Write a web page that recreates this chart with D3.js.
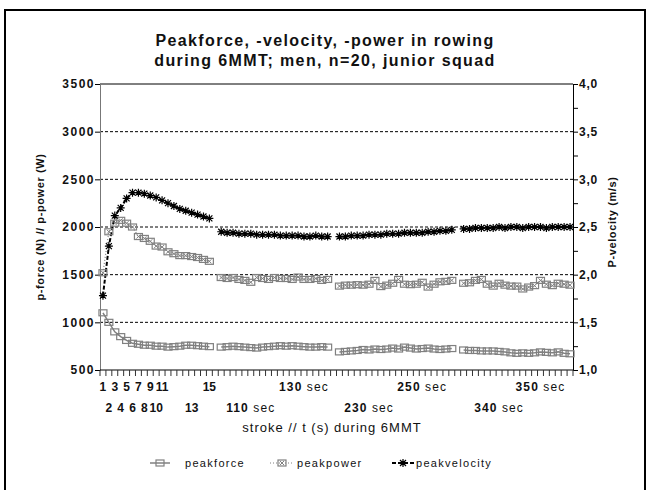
<!DOCTYPE html>
<html>
<head>
<meta charset="utf-8">
<script src="https://cdn.jsdelivr.net/npm/d3@7"></script>
<style>
  body { margin: 0; background: #fff; }
  text { font-family: "Liberation Sans", Arial, sans-serif; fill: #111; }
</style>
</head>
<body>
<svg width="650" height="490"></svg>
<script>
// category labels (80 slots, staggered in two rows by index parity)
const xLabels = [
  '1','2','3','4','5','6','7','8','9','10','11','','','','','13','','','15','',
  '','','','','','110 sec','','','','','','','','','130 sec','','','','','',
  '','','','','','230 sec','','','','','','','','','250 sec','','','','','',
  '','','','','','','','340 sec','','','','','','','350 sec','','','','',''
];

// peak force (N), null = gap
const peakforce = [
  1100,1000,900,850,810,780,770,760,760,750,750,740,745,750,760,760,755,750,745, null,
  740,745,750,745,740,735,730,740,745,750,755,750,755,750,745,740,740,745,740, null,
  690,695,700,705,715,710,720,715,720,730,720,740,730,720,725,730,720,715,720,725, null,
  710,705,705,700,700,700,695,690,680,675,680,675,680,690,685,680,690,675,670
];

// peak power (W)
const peakpower = [
  1520,1950,2040,2070,2040,2000,1900,1880,1850,1800,1790,1740,1720,1700,1700,1690,1680,1660,1640, null,
  1470,1460,1470,1450,1440,1420,1470,1460,1450,1470,1460,1460,1450,1475,1450,1450,1460,1440,1450, null,
  1380,1390,1390,1395,1390,1400,1440,1375,1390,1410,1450,1400,1395,1400,1420,1370,1400,1425,1430,1440, null,
  1410,1415,1440,1450,1400,1380,1410,1390,1380,1380,1350,1370,1385,1440,1400,1385,1410,1400,1390
];

// peak velocity (m/s), right axis
const peakvelocity = [
  1.78,2.30,2.62,2.70,2.80,2.86,2.86,2.85,2.83,2.81,2.78,2.75,2.72,2.69,2.67,2.65,2.63,2.61,2.59, null,
  2.45,2.44,2.44,2.43,2.43,2.43,2.42,2.42,2.42,2.42,2.41,2.41,2.41,2.41,2.40,2.40,2.41,2.40,2.40, null,
  2.40,2.40,2.41,2.41,2.41,2.42,2.42,2.42,2.43,2.43,2.43,2.44,2.44,2.44,2.44,2.45,2.45,2.46,2.46,2.47, null,
  2.48,2.48,2.49,2.49,2.49,2.49,2.50,2.49,2.50,2.50,2.49,2.50,2.50,2.50,2.49,2.50,2.50,2.50,2.50
];

const leftTicks = [500, 1000, 1500, 2000, 2500, 3000, 3500];
const rightTicks = [1.0, 1.5, 2.0, 2.5, 3.0, 3.5, 4.0];

const svg = d3.select('svg');
const plotLeft = 100, plotRight = 573, plotTop = 84, plotBottom = 370;

const x = d3.scaleBand().domain(d3.range(xLabels.length)).range([plotLeft, plotRight]);
const yL = d3.scaleLinear().domain([500, 3500]).range([plotBottom, plotTop]);
const yR = d3.scaleLinear().domain([1.0, 4.0]).range([plotBottom, plotTop]);
const cx = i => x(i) + x.bandwidth() / 2;

// outer frame
svg.append('path')
    .attr('d', 'M5,492 V10 H645 V492')
    .style('fill', 'none')
    .style('stroke', 'black')
    .style('stroke-width', 2);

// title
svg.append('text').attr('x', 325).attr('y', 46).attr('text-anchor', 'middle')
    .style('font-size', '16px').style('font-weight', 'bold').style('letter-spacing', '1.4px')
    .text('Peakforce, -velocity, -power in rowing');
svg.append('text').attr('x', 325).attr('y', 66).attr('text-anchor', 'middle')
    .style('font-size', '16px').style('font-weight', 'bold').style('letter-spacing', '1.4px')
    .text('during 6MMT; men, n=20, junior squad');

// gridlines
svg.append('g')
    .selectAll('line')
    .data(leftTicks.slice(1, -1))
    .enter()
    .append('line')
    .attr('x1', plotLeft).attr('x2', plotRight)
    .attr('y1', d => yL(d)).attr('y2', d => yL(d))
    .style('stroke', 'black')
    .style('stroke-dasharray', '3,2');
svg.append('line')
    .attr('x1', plotLeft).attr('x2', plotRight)
    .attr('y1', yL(3500)).attr('y2', yL(3500))
    .style('stroke', 'black');

// left axis
const yAxisL = d3.axisLeft(yL).tickValues(leftTicks).tickSize(5).tickFormat(d3.format('d'));
const gL = svg.append('g').attr('transform', `translate(${plotLeft},0)`).call(yAxisL);
gL.select('.domain').style('stroke', '#777');
gL.selectAll('text').style('font-size', '12px').style('font-weight', 'bold')
    .style('letter-spacing', '1.5px')
    .style('font-family', '"Liberation Sans", Arial, sans-serif').attr('x', -5);

// right axis
const minorR = d3.range(1.0, 4.01, 0.25);
const yAxisR = d3.axisRight(yR).tickValues(minorR).tickSize(5)
    .tickFormat(d => rightTicks.some(t => Math.abs(t - d) < 1e-6) ? d3.format('.1f')(d).replace('.', ',') : '');
const gR = svg.append('g').attr('transform', `translate(${plotRight},0)`).call(yAxisR);
gR.selectAll('text').style('font-size', '12px').style('font-weight', 'bold')
    .style('letter-spacing', '0.8px')
    .style('font-family', '"Liberation Sans", Arial, sans-serif').attr('x', 6);

// bottom axis
svg.append('line')
    .attr('x1', plotLeft).attr('x2', plotRight)
    .attr('y1', plotBottom).attr('y2', plotBottom)
    .style('stroke', 'black');
svg.append('g')
    .selectAll('line')
    .data(d3.range(xLabels.length + 1))
    .enter()
    .append('line')
    .attr('x1', i => plotLeft + i * x.bandwidth())
    .attr('x2', i => plotLeft + i * x.bandwidth())
    .attr('y1', plotBottom).attr('y2', plotBottom + 6)
    .style('stroke', '#333');
const xl = svg.append('g')
    .selectAll('text')
    .data(xLabels.map((t, i) => ({t, i})).filter(d => d.t !== ''))
    .enter()
    .append('text')
    .attr('x', d => cx(d.i))
    .attr('y', d => d.i % 2 === 0 ? 391 : 412)
    .attr('text-anchor', 'middle')
    .style('font-size', '12px')
    .style('letter-spacing', d => d.t.includes(' ') ? '1.1px' : '0px');
xl.append('tspan').style('font-weight', 'bold').text(d => d.t.split(' ')[0]);
xl.filter(d => d.t.includes(' ')).append('tspan').text(' sec');

// axis titles
svg.append('text').attr('x', 332).attr('y', 432).attr('text-anchor', 'middle')
    .style('font-size', '13px').style('letter-spacing', '1px')
    .text('stroke // t (s) during 6MMT');
svg.append('text').attr('transform', 'translate(44,227) rotate(-90)').attr('text-anchor', 'middle')
    .style('font-size', '11px').style('font-weight', 'bold').style('letter-spacing', '0.6px')
    .text('p-force (N) // p-power (W)');
svg.append('text').attr('transform', 'translate(616,222) rotate(-90)').attr('text-anchor', 'middle')
    .style('font-size', '11px').style('font-weight', 'bold').style('letter-spacing', '0.6px')
    .text('P-velocity (m/s)');

// series lines
const lineL = d3.line().defined(d => d.v !== null).x(d => cx(d.i)).y(d => yL(d.v));
const lineR = d3.line().defined(d => d.v !== null).x(d => cx(d.i)).y(d => yR(d.v));
const asPts = arr => arr.map((v, i) => ({v, i}));

svg.append('path').datum(asPts(peakforce)).attr('d', lineL)
    .style('fill', 'none').style('stroke', '#808080').style('stroke-width', 1.5);
svg.append('path').datum(asPts(peakpower)).attr('d', lineL)
    .style('fill', 'none').style('stroke', '#808080').style('stroke-width', 1.2)
    .style('stroke-dasharray', '1,2');
svg.append('path').datum(asPts(peakvelocity)).attr('d', lineR)
    .style('fill', 'none').style('stroke', 'black').style('stroke-width', 2)
    .style('stroke-dasharray', '4,2');

// markers
function boxMarker(g, withX) {
  g.append('rect').attr('x', -4).attr('y', -3).attr('width', 8).attr('height', 6)
      .style('fill', 'none').style('stroke', '#808080').style('stroke-width', 1.2);
  if (withX) {
    g.append('path').attr('d', 'M-2,-2L2,2M-2,2L2,-2')
        .style('stroke', '#808080').style('stroke-width', 1);
  }
}
function starMarker(g) {
  g.append('path').attr('d', 'M-4,0H4M0,-4V4M-3,-3L3,3M-3,3L3,-3')
      .style('stroke', 'black').style('stroke-width', 1.2);
}

svg.append('g').selectAll('g')
    .data(asPts(peakforce).filter(d => d.v !== null))
    .enter().append('g')
    .attr('transform', d => `translate(${cx(d.i)},${yL(d.v)})`)
    .each(function() { boxMarker(d3.select(this), false); });
svg.append('g').selectAll('g')
    .data(asPts(peakpower).filter(d => d.v !== null))
    .enter().append('g')
    .attr('transform', d => `translate(${cx(d.i)},${yL(d.v)})`)
    .each(function() { boxMarker(d3.select(this), true); });
svg.append('g').selectAll('g')
    .data(asPts(peakvelocity).filter(d => d.v !== null))
    .enter().append('g')
    .attr('transform', d => `translate(${cx(d.i)},${yR(d.v)})`)
    .each(function() { starMarker(d3.select(this)); });

// legend
const ly = 463;
svg.append('line').attr('x1', 150).attr('x2', 170).attr('y1', ly).attr('y2', ly)
    .style('stroke', '#808080').style('stroke-width', 1.5);
boxMarker(svg.append('g').attr('transform', `translate(160,${ly})`), false);
svg.append('text').attr('x', 185).attr('y', ly + 4).style('font-size', '11px')
    .style('letter-spacing', '1.3px').text('peakforce');

svg.append('line').attr('x1', 270).attr('x2', 294).attr('y1', ly).attr('y2', ly)
    .style('stroke', '#808080').style('stroke-dasharray', '1,2');
boxMarker(svg.append('g').attr('transform', `translate(282,${ly})`), true);
svg.append('text').attr('x', 297).attr('y', ly + 4).style('font-size', '11px')
    .style('letter-spacing', '1.3px').text('peakpower');

svg.append('line').attr('x1', 392).attr('x2', 414).attr('y1', ly).attr('y2', ly)
    .style('stroke', 'black').style('stroke-width', 2).style('stroke-dasharray', '4,2');
starMarker(svg.append('g').attr('transform', `translate(403,${ly})`));
svg.append('text').attr('x', 416).attr('y', ly + 4).style('font-size', '11px')
    .style('letter-spacing', '1.3px').text('peakvelocity');
</script>
</body>
</html>
